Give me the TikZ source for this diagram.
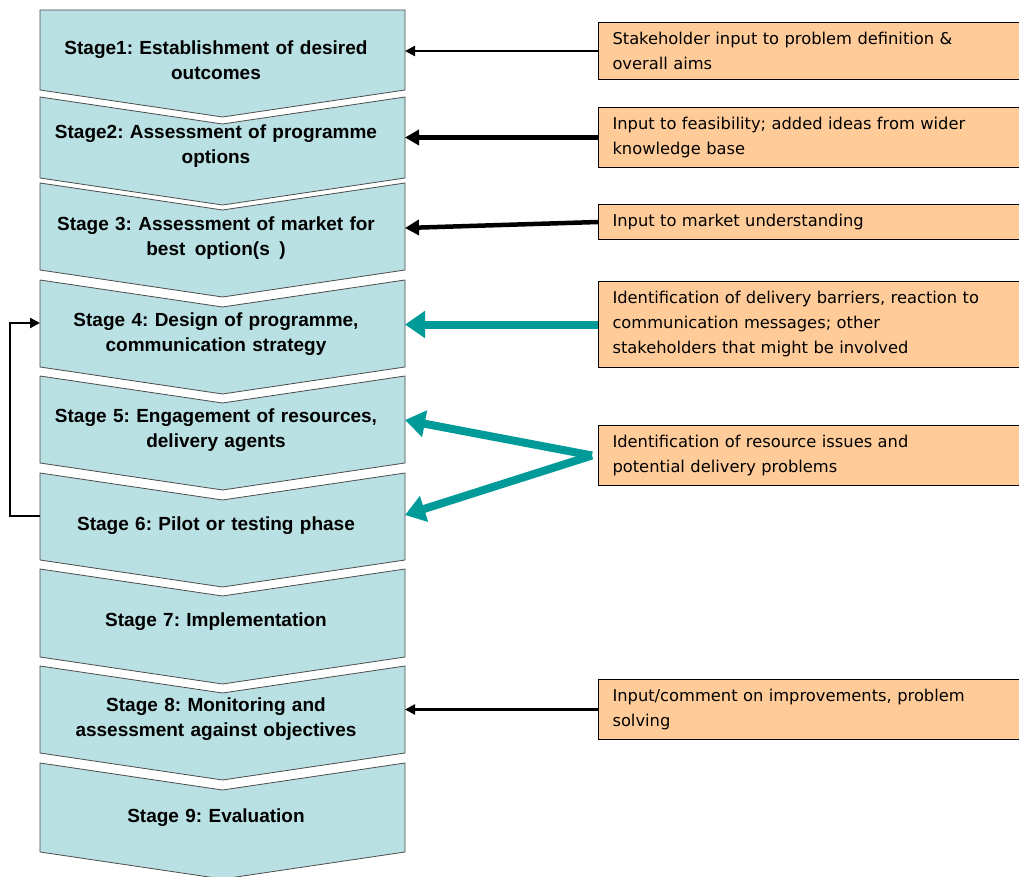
\documentclass[tikz,border=0pt]{standalone}
\usepackage{fontspec}
\setmainfont{Liberation Sans}
\newfontfamily\boxfont{DejaVu Sans}
\usepackage{tikz}
\usetikzlibrary{arrows.meta,calc}
\frenchspacing

\definecolor{stageblue}{HTML}{B9E0E3}
\definecolor{inputorange}{HTML}{FFCC99}
\definecolor{feedteal}{HTML}{009B98}

\tikzset{
  stageshape/.style={fill=stageblue, draw=black!70, line width=0.8pt},
  stagetext/.style={font=\bfseries\fontsize{19}{24.5}\selectfont, align=center,
    text width=345pt, minimum width=365pt, inner xsep=10pt, inner ysep=0pt},
  inputbox/.style={draw=black, line width=1pt, fill=inputorange, anchor=west,
    font=\boxfont\fontsize{16.3}{25}\selectfont, align=left,
    text width=400pt, inner xsep=14pt, inner ysep=10pt},
  thinarrow/.style={draw=black, line width=2.2pt, -{Triangle[length=10pt,width=10pt]}},
  boldarrow/.style={draw=black, line width=4.5pt, -{Triangle[length=14pt,width=15pt]}},
  tealinput/.style={draw=feedteal, line width=8pt, -{Triangle[length=20pt,width=26pt]}}
}

\begin{document}
\begin{tikzpicture}[x=1pt,y=-1pt]
    \useasboundingbox (0,0) rectangle (1019,877);
    \clip (0,0) rectangle (1019,877);

    % stage chevrons
    \filldraw[stageshape] (40,10) -- (405,10) -- (405,90) -- (222.5,117) -- (40,90) -- cycle;
    \foreach \t/\b in {97/178, 183/270, 280/367, 376/463, 473/560, 569/657, 666/753, 763/852}
      \filldraw[stageshape] (40,\t) -- (222.5,\t+27) -- (405,\t) -- (405,\b) -- (222.5,\b+27) -- (40,\b) -- cycle;

    % text sits a little left of the chevron middle
    \node[stagetext] (s1) at (216,60) {Stage1: Establishment of desired\\ outcomes};
    \node[stagetext] (s2) at (216,146) {Stage2: Assessment of programme\\ options};
    \node[stagetext] (s3) at (216,238) {Stage 3: Assessment of market for\\ best~\,option(s~\,)};
    \node[stagetext] (s4) at (216,334) {Stage 4: Design of programme,\\ communication strategy};
    \node[stagetext] (s5) at (216,430) {Stage 5: Engagement of resources,\\ delivery agents};
    \node[stagetext] (s6) at (216,526) {Stage 6: Pilot or testing phase};
    \node[stagetext] (s7) at (216,622) {Stage 7: Implementation};
    \node[stagetext] (s8) at (216,719) {Stage 8: Monitoring and\\ assessment against objectives};
    \node[stagetext] (s9) at (216,818) {Stage 9: Evaluation};

    % inputs
    \node[inputbox] (in1) at (598,51) {Stakeholder input to problem definition \&\\ overall aims};
    \node[inputbox] (in2) at (598,137.5) {Input to feasibility; added ideas from wider\\ knowledge base};
    \node[inputbox] (in3) at (598,222) {Input to market understanding};
    \node[inputbox] (in4) at (598,324.5) {Identification of delivery barriers, reaction to\\ communication messages; other\\ stakeholders that might be involved};
    \node[inputbox] (in5) at (598,455.5) {Identification of resource issues and\\ potential delivery problems};
    \node[inputbox] (in6) at (598,709.5) {Input/comment on improvements, problem\\ solving};

    \coordinate (edge) at (405,0);
    \draw[thinarrow] (in1.west) -- (in1.west -| edge);
    \draw[boldarrow] (in2.west) -- (in2.west -| edge);
    \draw[boldarrow] (in3.west) -- ([yshift=10pt]s3.east -| edge);
    \draw[tealinput] (in4.west) -- (in4.west -| edge);
    \coordinate (fork) at ([xshift=-6pt]in5.west);
    \draw[tealinput] (fork) -- ([yshift=10pt]s5.east -| edge);
    \draw[tealinput] (fork) -- ([yshift=11pt]s6.east -| edge);
    \draw[thinarrow] (in6.west) -- (in6.west -| edge);

    % loop back from pilot to design
    \coordinate (leftedge) at (40,0);
    \draw[thinarrow] ([yshift=10pt]s6.west -| leftedge) -- ++(-30,0) |- ([yshift=11pt]s4.west -| leftedge);
\end{tikzpicture}
\end{document}
